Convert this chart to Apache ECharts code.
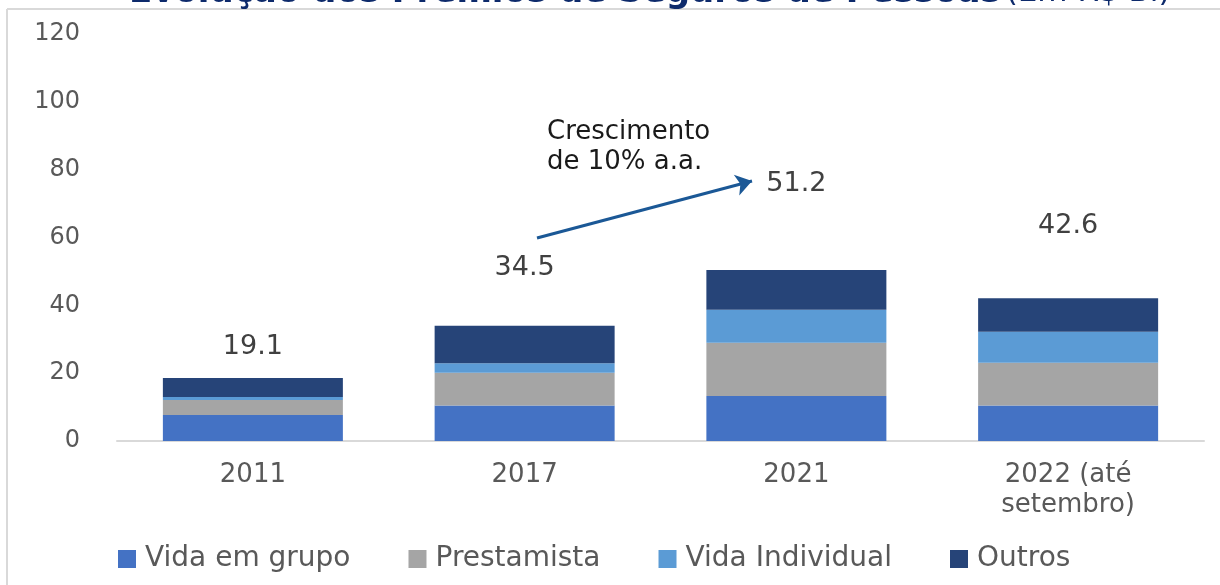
<!DOCTYPE html>
<html>
<head>
<meta charset="utf-8">
<script src="https://cdn.jsdelivr.net/npm/echarts@6/dist/echarts.min.js"></script>
<style>
html,body{margin:0;padding:0;background:#fff;}
#chart{width:1220px;height:585px;}
</style>
</head>
<body>
<div id="chart"></div>
<script>
// ---- Data ----
const categories = ['2011', '2017', '2021', '2022 (até\nsetembro)'];
const vidaEmGrupo = [7.7, 10.5, 13.3, 10.5];
const prestamista = [4.4, 9.6, 15.7, 12.6];
const vidaIndividual = [0.9, 2.8, 9.7, 9.1];
const outros = [5.6, 11.1, 11.7, 9.9];
const totalLabels = ['19.1', '34.5', '51.2', '42.6'];
const yTicks = [0, 20, 40, 60, 80, 100, 120];

// ---- Layout (label heights in axis units, not data) ----
const totalLabelLevel = [27.7, 51.0, 75.8, 63.4];

const FONT = 'DejaVu Sans';
const chart = echarts.init(document.getElementById('chart'));

const option = {
  animation: false,
  backgroundColor: '#ffffff',
  title: {
    left: 124,
    top: -29,
    text: '{b|Evolução dos Prêmios de Seguros de Pessoas} {n|(Em R$ Bi)}',
    textStyle: {
      rich: {
        b: { fontFamily: FONT, fontWeight: 'bold', fontSize: 34, color: '#0d2a6b' },
        n: { fontFamily: FONT, fontWeight: 'normal', fontSize: 31, color: '#0d2a6b' }
      }
    }
  },
  grid: { left: 117, right: 16, top: 34, bottom: 144 },
  legend: {
    left: 113,
    top: 540,
    itemWidth: 18,
    itemHeight: 18,
    itemGap: 58,
    icon: 'rect',
    textStyle: { fontFamily: FONT, fontSize: 28, color: '#595959', padding: [0, 0, 0, 4] },
    data: ['Vida em grupo', 'Prestamista', 'Vida Individual', 'Outros']
  },
  xAxis: {
    type: 'category',
    data: categories,
    axisLine: { lineStyle: { color: '#d9d9d9', width: 2 } },
    axisTick: { show: false },
    axisLabel: { fontFamily: FONT, fontSize: 26, color: '#595959', lineHeight: 30, margin: 19, interval: 0 }
  },
  yAxis: {
    type: 'value',
    min: 0,
    max: 120,
    interval: 20,
    splitLine: { show: false },
    axisLine: { show: false },
    axisTick: { show: false },
    axisLabel: {
      fontFamily: FONT, fontSize: 24, color: '#595959', margin: 37,
      formatter: v => (yTicks.indexOf(v) >= 0 ? String(v) : '')
    }
  },
  series: [
    { name: 'Vida em grupo', type: 'bar', stack: 't', barWidth: 180, data: vidaEmGrupo, itemStyle: { color: '#4472c4' } },
    { name: 'Prestamista', type: 'bar', stack: 't', barWidth: 180, data: prestamista, itemStyle: { color: '#a5a5a5' } },
    { name: 'Vida Individual', type: 'bar', stack: 't', barWidth: 180, data: vidaIndividual, itemStyle: { color: '#5b9bd5' } },
    {
      name: 'Outros', type: 'bar', stack: 't', barWidth: 180, data: outros, itemStyle: { color: '#264478' },
      markLine: {
        silent: true,
        symbol: ['none', 'arrow'],
        symbolSize: [16, 16],
        lineStyle: { color: '#1b5896', width: 3, type: 'solid' },
        label: { show: false },
        data: [[{ x: 537, y: 238 }, { x: 752, y: 181 }]]
      }
    }
  ],
  graphic: [
    {
      type: 'line', z: -1, silent: true,
      shape: { x1: 7, y1: 9, x2: 1220, y2: 9 },
      style: { stroke: '#d9d9d9', lineWidth: 2 }
    },
    {
      type: 'line', z: -1, silent: true,
      shape: { x1: 7, y1: 9, x2: 7, y2: 585 },
      style: { stroke: '#d9d9d9', lineWidth: 2 }
    },
    {
      type: 'text', left: 547, top: 117, silent: true,
      style: { text: 'Crescimento\nde 10% a.a.', fontFamily: FONT, fontSize: 26, lineHeight: 30, fill: '#1a1a1a' }
    }
  ]
};

chart.setOption(option);

// Total labels above each bar
const extra = categories.map((c, i) => {
  const p = chart.convertToPixel({ gridIndex: 0 }, [i, totalLabelLevel[i]]);
  return {
    type: 'text', silent: true, x: p[0], y: p[1],
    style: { text: totalLabels[i], fontFamily: FONT, fontSize: 27, fill: '#404040', align: 'center', verticalAlign: 'middle' }
  };
});
chart.setOption({ graphic: option.graphic.concat(extra) });
</script>
</body>
</html>
